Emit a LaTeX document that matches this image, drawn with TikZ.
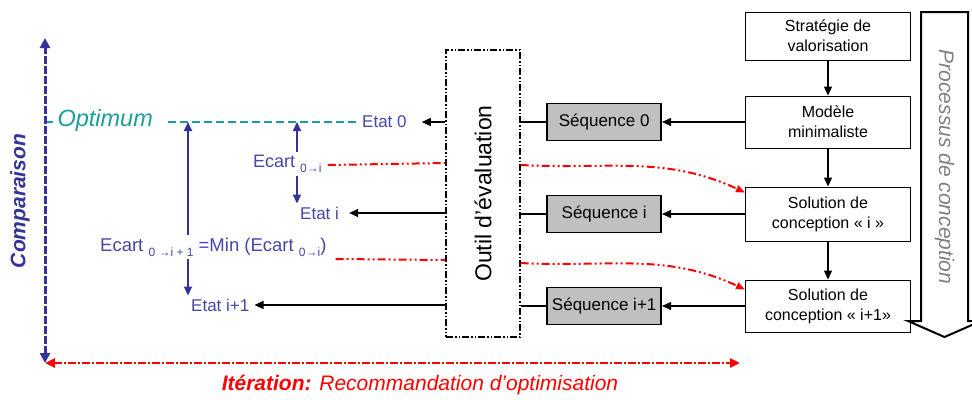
\documentclass[tikz,border=0pt]{standalone}
\usepackage{fontspec}
\setmainfont{Liberation Sans}
\usepackage{tikz}
\usetikzlibrary{arrows.meta, positioning}
\definecolor{axisblue}{HTML}{333399}
\definecolor{txtblue}{HTML}{4646A8}
\definecolor{optteal}{HTML}{1A9E9E}
\definecolor{itered}{HTML}{FF0000}
\definecolor{seqgray}{HTML}{C0C0C0}
\newcommand{\ecsub}[1]{\raisebox{-5pt}{\fontsize{12pt}{12pt}\selectfont #1}}
\tikzset{
    design/.style={rectangle, draw=black, line width=1pt, minimum width=165pt, align=center, font=\fontsize{16pt}{20pt}\selectfont},
    sequence/.style={rectangle, draw=black, line width=1.6pt, fill=seqgray, minimum width=114pt, minimum height=37pt, font=\fontsize{17pt}{19pt}\selectfont},
    evaltool/.style={rectangle, draw=black, fill=white, line width=1.2pt, dash pattern=on 7pt off 2pt on 1.5pt off 2pt on 1.5pt off 2pt, minimum width=74pt, minimum height=287pt},
    etat/.style={anchor=west, inner sep=3pt, text=txtblue, font=\fontsize{17pt}{20pt}\selectfont},
    arrow/.style={line width=1.5pt, -{Triangle[length=9pt,width=8pt]}},
    link/.style={line width=1.5pt},
    bluearrow/.style={line width=1.8pt, draw=axisblue, -{Triangle[length=9pt,width=8pt]}},
    redcurve/.style={line width=2pt, draw=itered, dash pattern=on 8pt off 3pt on 2pt off 3pt on 2pt off 3pt},
    optline/.style={line width=1.6pt, draw=optteal, dash pattern=on 8pt off 4pt}
}
\begin{document}
\begin{tikzpicture}[x=1pt, y=-1pt]
    \useasboundingbox (0,0) rectangle (972,399);

    % design process column
    \node (strat) [design, minimum height=48pt] at (828,36) {Stratégie de\\valorisation};
    \node (modele) [design, minimum height=52pt] at (828,122) {Modèle\\minimaliste};
    \node (soli) [design, minimum height=54pt] at (828,214) {Solution de\\conception « i »};
    \node (solip) [design, minimum height=52pt] at (828,306) {Solution de\\conception « i+1»};
    \draw [arrow] (strat) -- (modele);
    \draw [arrow] (modele) -- (soli);
    \draw [arrow] (soli) -- (solip);

    % big arrow
    \draw [line width=2pt, fill=white] (921,12) -- (968,12) -- (968,321) -- (981,321) -- (944.5,337) -- (908,321) -- (921,321) -- cycle;
    \node (process) [rotate=-90, text=gray, font=\fontsize{21pt}{24pt}\selectfont\itshape] at (944.5,167) {Processus de conception};

    % sequences
    \node (seq0) [sequence, left=83pt of modele] {Séquence 0};
    \node (seqi) [sequence, left=83pt of soli] {Séquence i};
    \node (seqip) [sequence, left=83pt of solip] {Séquence i+1};
    \draw [arrow] (modele.west) -- (seq0.east);
    \draw [arrow] (soli.west) -- (seqi.east);
    \draw [arrow] (solip.west) -- (seqip.east);

    % evaluation tool
    \node (outil) [evaltool] at (483,193.5) {};
    \node (outiltxt) [rotate=90, font=\fontsize{23pt}{26pt}\selectfont] at (outil) {Outil d’évaluation};
    \draw [link] (outil.east |- seq0) -- (seq0);
    \draw [link] (outil.east |- seqi) -- (seqi);
    \draw [link] (outil.east |- seqip) -- (seqip);

    % states
    \node (etat0) [etat] at (359,122) {Etat 0};
    \node (etati) [etat] at (297,213) {Etat i};
    \node (etatip) [etat] at (188,305) {Etat i+1};
    \draw [arrow] (outil.west |- etat0) -- ([xshift=12pt]etat0.east);
    \draw [arrow] (outil.west |- etati) -- ([xshift=7pt]etati.east);
    \draw [arrow] (outil.west |- etatip) -- ([xshift=2pt]etatip.east);

    % optimum and gaps
    \coordinate (axtop) at (45,38);
    \coordinate (corner) at (45,363);
    \coordinate (axright) at (740,363);
    \coordinate (optstart) at (168,122);
    \coordinate (opt1) at (188,122);
    \coordinate (opt2) at (297,122);
    \node (optimum) [anchor=west, text=optteal, font=\fontsize{23.5pt}{26pt}\selectfont\itshape] at (54,120) {Optimum};
    \draw [optline] (axtop |- optstart) -- (optimum.west |- optstart);
    \draw [optline] (optstart) -- (etat0.west);

    \node (ecarti) [anchor=west, inner sep=3pt, text=txtblue, font=\fontsize{18pt}{20pt}\selectfont] at (250,164) {Ecart \ecsub{0→i}};
    \node (ecartmin) [anchor=west, inner sep=3pt, text=txtblue, font=\fontsize{18.5pt}{20pt}\selectfont] at (97,247) {Ecart \ecsub{0 →i + 1} =Min (Ecart \ecsub{0→i})};
    \draw [bluearrow] (ecarti.north -| opt2) -- (opt2);
    \draw [bluearrow] (ecarti.south -| opt2) -- (etati.north west);
    \draw [bluearrow] (ecartmin.north -| opt1) -- (opt1);
    \draw [bluearrow] (ecartmin.south -| opt1) -- (etatip.north west);

    % recommendations
    \draw [redcurve] ([xshift=3pt,yshift=-1pt]ecarti.east) -- ([yshift=30.5pt]outil.west);
    \draw [redcurve, -{Triangle[length=9pt,width=7pt]}] ([yshift=28.5pt]outil.east) to[out=-3, in=155] ([yshift=-6pt]soli.north west);
    \draw [redcurve] ([xshift=6pt,yshift=-12pt]ecartmin.east) -- ([yshift=-66.5pt]outil.west);
    \draw [redcurve, -{Triangle[length=9pt,width=7pt]}] ([yshift=-69.5pt]outil.east) to[out=-3, in=155] ([yshift=-10pt]solip.north west);

    % axes
    \draw [line width=3pt, draw=axisblue, dash pattern=on 8pt off 2pt, {Triangle[length=10pt,width=10pt]}-{Triangle[length=10pt,width=10pt]}] (corner) -- (axtop);
    \draw [line width=2.5pt, draw=itered, dash pattern=on 8pt off 2pt on 2pt off 2pt, {Triangle[length=10pt,width=9pt]}-{Triangle[length=10pt,width=9pt]}] (corner) -- (axright);
    \node (comparaison) [rotate=90, text=axisblue, font=\fontsize{21pt}{24pt}\selectfont\bfseries\itshape] at (20,201) {Comparaison};
    \node (iteration) [text=itered, font=\fontsize{21pt}{24pt}\selectfont\itshape] at (420,385) {\textbf{Itération:} Recommandation d’optimisation};
\end{tikzpicture}
\end{document}
